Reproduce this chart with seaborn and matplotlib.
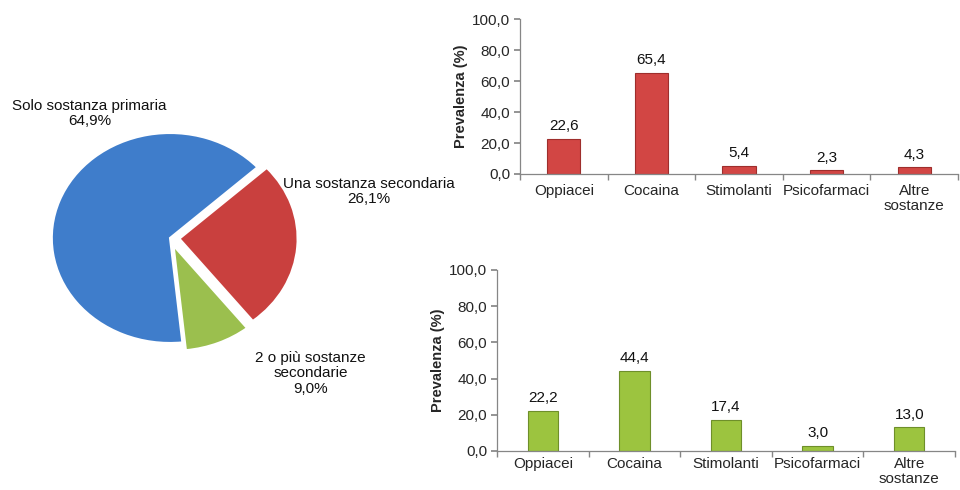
import numpy as np
import pandas as pd
import matplotlib
matplotlib.use("Agg")
import matplotlib.pyplot as plt
from matplotlib.ticker import FuncFormatter, FixedLocator
import seaborn as sns

# Pie data
pie_labels = ["Solo sostanza primaria", "Una sostanza secondaria", "2 o più sostanze\nsecondarie"]
pie_values = [64.9, 26.1, 9.0]
pie_colors = ["#3F7DCB", "#C9403E", "#9BBF4E"]

# Bar data
substances = ["Oppiacei", "Cocaina", "Stimolanti", "Psicofarmaci", "Altre\nsostanze"]
prev_one = [22.6, 65.4, 5.4, 2.3, 4.3]
prev_more = [22.2, 44.4, 17.4, 3.0, 13.0]

sns.set_theme(style="white")
plt.rcParams["font.family"] = ["Liberation Sans", "DejaVu Sans"]
plt.rcParams["font.size"] = 11

fig = plt.figure(figsize=(9.6, 4.9), dpi=100)


def comma(v, pos=None):
    return f"{v:.1f}".replace(".", ",")


# ---- pie ----
ax_pie = fig.add_axes([40 / 960, 0.2786, 260 / 960, 0.4714])
wedges, _ = ax_pie.pie(
    pie_values, colors=pie_colors, startangle=276, counterclock=False,
    explode=[0, 0.08, 0.08],
    wedgeprops=dict(edgecolor="white", linewidth=1.5),
)
ax_pie.set_aspect("auto")
ax_pie.set_xlim(-1.1, 1.1)
ax_pie.set_ylim(-1.1, 1.1)
ax_pie.axis("off")

label_pos = [(-0.68, 1.19), (1.68, 0.44), (1.19, -1.29)]
for lab, val, (lx, ly) in zip(pie_labels, pie_values, label_pos):
    ax_pie.text(lx, ly, f"{lab}\n{comma(val)}%", ha="center", va="center",
                multialignment="center", fontsize=11, color="#111111",
                clip_on=False, linespacing=1.1)


# ---- bars ----
def bar_panel(rect, values, color, edge, width, pad):
    ax = fig.add_axes(rect)
    df = pd.DataFrame({"Sostanza": substances, "Prevalenza": values})
    sns.barplot(data=df, x="Sostanza", y="Prevalenza", color=color,
                edgecolor=edge, linewidth=0.8, width=width, saturation=1, ax=ax)
    ax.bar_label(ax.containers[0], labels=[comma(v) for v in values],
                 padding=4, fontsize=11, color="#111111")
    ax.set_ylim(0, 100)
    ax.set_xlim(-0.5, 4.5)
    ax.yaxis.set_major_locator(FixedLocator([0, 20, 40, 60, 80, 100]))
    ax.yaxis.set_major_formatter(FuncFormatter(comma))
    ax.set_xlabel("")
    ax.set_ylabel("Prevalenza (%)", fontsize=10.5, fontweight="bold", labelpad=3)
    for s in ["top", "right"]:
        ax.spines[s].set_visible(False)
    for s in ["left", "bottom"]:
        ax.spines[s].set_color("#868686")
        ax.spines[s].set_linewidth(0.9)
    ax.xaxis.set_minor_locator(FixedLocator(np.arange(-0.5, 5, 1)))
    ax.tick_params(axis="x", which="major", length=0, labelsize=11, pad=pad)
    ax.tick_params(axis="x", which="minor", length=4, color="#868686", direction="out", bottom=True)
    ax.tick_params(axis="y", which="major", length=4, color="#868686", direction="out",
                   left=True, labelsize=11, pad=3)
    for t in ax.get_xticklabels():
        t.set_linespacing(1.15)
    ax.grid(False)
    return ax


bar_panel([520 / 960, 0.6449, 438 / 960, 0.3163], prev_one, "#D24644", "#9E2E2C", 0.38, 7)
bar_panel([497 / 960, 0.0796, 458 / 960, 0.3694], prev_more, "#9CC43F", "#6E8F2A", 0.33, 4)

fig.savefig("out.png", dpi=100)
